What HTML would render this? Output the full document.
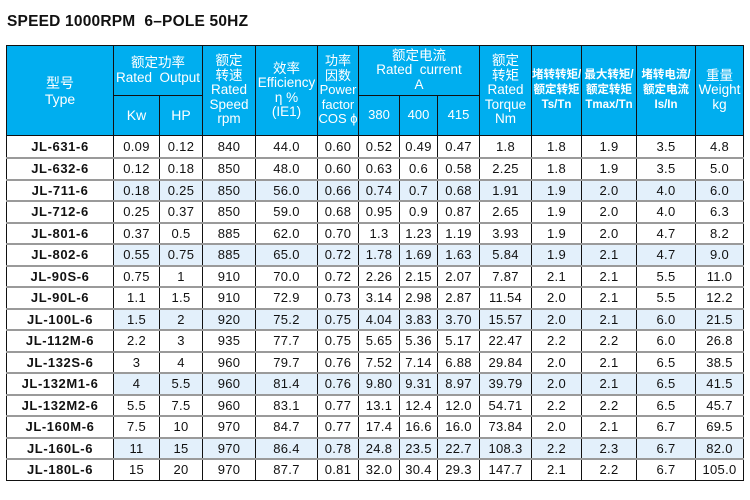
<!DOCTYPE html>
<html><head><meta charset="utf-8"><style>
body{margin:0;width:750px;height:500px;background:#fff;font-family:"Liberation Sans","Noto Sans CJK SC",sans-serif;position:relative;overflow:hidden}
.title{position:absolute;left:7px;top:13px;font-size:15.5px;font-weight:bold;color:#111;letter-spacing:0.2px}
table{position:absolute;left:6px;top:45px;border-collapse:collapse;table-layout:fixed;width:738px}
td,th{border-left:1px solid #111;border-right:1px solid #111;padding:0;text-align:center;font-size:13px;color:#111;white-space:nowrap;overflow:hidden}
th{background:#00aeef;color:#fff;font-weight:normal;line-height:14.5px;border:1px solid #111}
th.s{font-size:11.5px;font-weight:bold;line-height:15px}
tbody td{border-bottom:2px solid #9a9a9a;height:19.5px;line-height:15px;letter-spacing:0.3px}
tbody tr:first-child td{height:21px}
tbody tr:last-child td{border-bottom:1.5px solid #111}
td.t{font-weight:bold;letter-spacing:0.6px}
tr.h td:not(.t){background:#e3f0fb}
</style></head><body>
<div class="title">SPEED 1000RPM&nbsp; 6–POLE 50HZ</div>
<table>
<colgroup><col style="width:107px"><col style="width:46px"><col style="width:43px"><col style="width:53px"><col style="width:62px"><col style="width:41px"><col style="width:41px"><col style="width:38px"><col style="width:42px"><col style="width:52px"><col style="width:50px"><col style="width:55px"><col style="width:59px"><col style="width:48px"></colgroup>
<thead>
<tr style="height:50px"><th rowspan="2" style="font-size:14px;line-height:16px">型号<br>Type</th><th colspan="2" style="font-size:13.5px">额定功率<br>Rated&nbsp; Output</th><th rowspan="2" style="font-size:13.5px">额定<br>转速<br>Rated<br>Speed<br>rpm</th><th rowspan="2" style="font-size:13.5px">效率<br>Efficiency<br>η %<br>(IE1)</th><th rowspan="2" style="font-size:13px">功率<br>因数<br>Power<br>factor<br>COS ϕ</th><th colspan="3" style="font-size:13.5px">额定电流<br>Rated&nbsp; current<br>A</th><th rowspan="2" style="font-size:13.5px">额定<br>转矩<br>Rated<br>Torque<br>Nm</th><th rowspan="2" class="s">堵转转矩/<br>额定转矩<br>Ts/Tn</th><th rowspan="2" class="s">最大转矩/<br>额定转矩<br>Tmax/Tn</th><th rowspan="2" class="s">堵转电流/<br>额定电流<br>Is/In</th><th rowspan="2" style="font-size:13.5px">重量<br>Weight<br>kg</th></tr>
<tr style="height:40px"><th style="font-size:14px">Kw</th><th style="font-size:14px">HP</th><th>380</th><th>400</th><th>415</th></tr>
</thead>
<tbody>
<tr><td class="t">JL-631-6</td><td>0.09</td><td>0.12</td><td>840</td><td>44.0</td><td>0.60</td><td>0.52</td><td>0.49</td><td>0.47</td><td>1.8</td><td>1.8</td><td>1.9</td><td>3.5</td><td>4.8</td></tr>
<tr><td class="t">JL-632-6</td><td>0.12</td><td>0.18</td><td>850</td><td>48.0</td><td>0.60</td><td>0.63</td><td>0.6</td><td>0.58</td><td>2.25</td><td>1.8</td><td>1.9</td><td>3.5</td><td>5.0</td></tr>
<tr class="h"><td class="t">JL-711-6</td><td>0.18</td><td>0.25</td><td>850</td><td>56.0</td><td>0.66</td><td>0.74</td><td>0.7</td><td>0.68</td><td>1.91</td><td>1.9</td><td>2.0</td><td>4.0</td><td>6.0</td></tr>
<tr><td class="t">JL-712-6</td><td>0.25</td><td>0.37</td><td>850</td><td>59.0</td><td>0.68</td><td>0.95</td><td>0.9</td><td>0.87</td><td>2.65</td><td>1.9</td><td>2.0</td><td>4.0</td><td>6.3</td></tr>
<tr><td class="t">JL-801-6</td><td>0.37</td><td>0.5</td><td>885</td><td>62.0</td><td>0.70</td><td>1.3</td><td>1.23</td><td>1.19</td><td>3.93</td><td>1.9</td><td>2.0</td><td>4.7</td><td>8.2</td></tr>
<tr class="h"><td class="t">JL-802-6</td><td>0.55</td><td>0.75</td><td>885</td><td>65.0</td><td>0.72</td><td>1.78</td><td>1.69</td><td>1.63</td><td>5.84</td><td>1.9</td><td>2.1</td><td>4.7</td><td>9.0</td></tr>
<tr><td class="t">JL-90S-6</td><td>0.75</td><td>1</td><td>910</td><td>70.0</td><td>0.72</td><td>2.26</td><td>2.15</td><td>2.07</td><td>7.87</td><td>2.1</td><td>2.1</td><td>5.5</td><td>11.0</td></tr>
<tr><td class="t">JL-90L-6</td><td>1.1</td><td>1.5</td><td>910</td><td>72.9</td><td>0.73</td><td>3.14</td><td>2.98</td><td>2.87</td><td>11.54</td><td>2.0</td><td>2.1</td><td>5.5</td><td>12.2</td></tr>
<tr class="h"><td class="t">JL-100L-6</td><td>1.5</td><td>2</td><td>920</td><td>75.2</td><td>0.75</td><td>4.04</td><td>3.83</td><td>3.70</td><td>15.57</td><td>2.0</td><td>2.1</td><td>6.0</td><td>21.5</td></tr>
<tr><td class="t">JL-112M-6</td><td>2.2</td><td>3</td><td>935</td><td>77.7</td><td>0.75</td><td>5.65</td><td>5.36</td><td>5.17</td><td>22.47</td><td>2.2</td><td>2.2</td><td>6.0</td><td>26.8</td></tr>
<tr><td class="t">JL-132S-6</td><td>3</td><td>4</td><td>960</td><td>79.7</td><td>0.76</td><td>7.52</td><td>7.14</td><td>6.88</td><td>29.84</td><td>2.0</td><td>2.1</td><td>6.5</td><td>38.5</td></tr>
<tr class="h"><td class="t">JL-132M1-6</td><td>4</td><td>5.5</td><td>960</td><td>81.4</td><td>0.76</td><td>9.80</td><td>9.31</td><td>8.97</td><td>39.79</td><td>2.0</td><td>2.1</td><td>6.5</td><td>41.5</td></tr>
<tr><td class="t">JL-132M2-6</td><td>5.5</td><td>7.5</td><td>960</td><td>83.1</td><td>0.77</td><td>13.1</td><td>12.4</td><td>12.0</td><td>54.71</td><td>2.2</td><td>2.2</td><td>6.5</td><td>45.7</td></tr>
<tr><td class="t">JL-160M-6</td><td>7.5</td><td>10</td><td>970</td><td>84.7</td><td>0.77</td><td>17.4</td><td>16.6</td><td>16.0</td><td>73.84</td><td>2.0</td><td>2.1</td><td>6.7</td><td>69.5</td></tr>
<tr class="h"><td class="t">JL-160L-6</td><td>11</td><td>15</td><td>970</td><td>86.4</td><td>0.78</td><td>24.8</td><td>23.5</td><td>22.7</td><td>108.3</td><td>2.2</td><td>2.3</td><td>6.7</td><td>82.0</td></tr>
<tr><td class="t">JL-180L-6</td><td>15</td><td>20</td><td>970</td><td>87.7</td><td>0.81</td><td>32.0</td><td>30.4</td><td>29.3</td><td>147.7</td><td>2.1</td><td>2.2</td><td>6.7</td><td>105.0</td></tr>
</tbody>
</table>
</body></html>
